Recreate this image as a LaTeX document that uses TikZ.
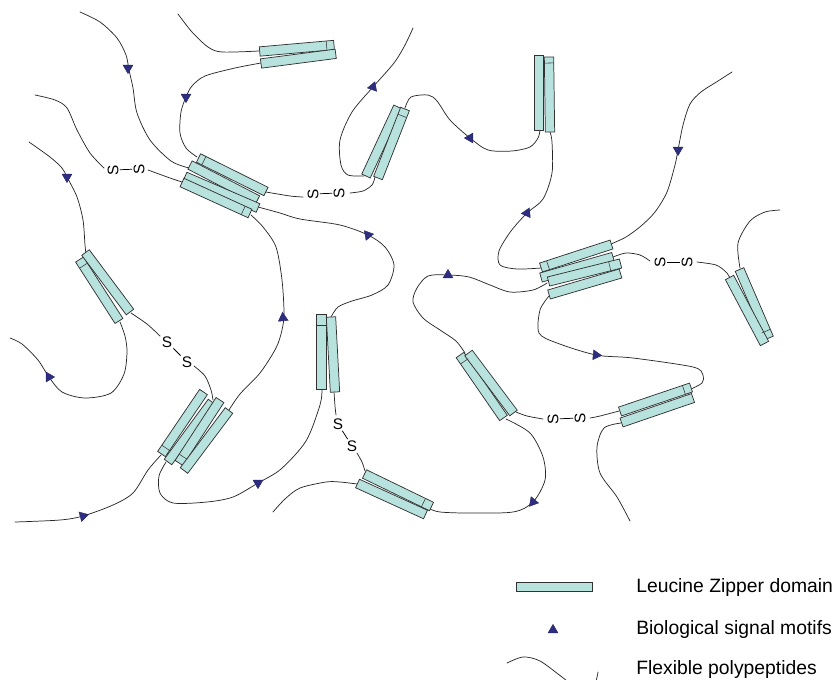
\documentclass[tikz,border=0pt]{standalone}
\usepackage{fontspec}
\setmainfont{Liberation Sans}
\usetikzlibrary{calc,shapes.geometric}

\definecolor{rodfill}{RGB}{184,226,222}
\definecolor{rodedge}{RGB}{50,50,50}
\definecolor{motifblue}{RGB}{46,46,128}
\definecolor{chain}{RGB}{40,40,40}

\tikzset{
  rodbox/.style={rectangle, draw=rodedge, fill=rodfill, line width=0.55pt,
    inner sep=0pt, outer sep=0pt, minimum height=7pt},
  tickline/.style={draw=rodedge, line width=0.4pt},
  chainline/.style={draw=chain, line width=0.55pt, line cap=round, line join=round},
  motifmark/.style={regular polygon, regular polygon sides=3, fill=motifblue,
    draw=motifblue!80!black, line width=0.3pt, inner sep=0pt, minimum size=8.5pt},
  sulfur/.style={font=\fontsize{11.5}{12}\selectfont, inner sep=0.8pt},
  bond/.style={draw=black, line width=0.55pt},
  legendtext/.style={font=\fontsize{14.5}{16}\selectfont, anchor=west, inner sep=0pt},
}

% leucine zipper rod between two centre-line end points
\newcommand\rod[5]{%
  \path let \p1=(#2,#3), \p2=(#4,#5),
            \n1={atan2(\y2-\y1,\x2-\x1)}, \n2={veclen(\x2-\x1,\y2-\y1)} in
    node[rodbox, rotate=\n1, minimum width=\n2] (#1) at ($(\p1)!0.5!(\p2)$) {};}
% small cross mark on a rod, at a fraction of its length from the west end
\newcommand\rodtick[2]{%
  \draw[tickline] ($(#1.north west)!#2!(#1.north east)$) -- ($(#1.south west)!#2!(#1.south east)$);}

\begin{document}
\begin{tikzpicture}[x=0.75pt, y=-0.75pt]
\useasboundingbox (0,0) rectangle (834,679);

% ---------- flexible polypeptide chains ----------
\draw[chainline] plot[smooth] coordinates {(178,14) (192,32) (208,47) (222,52) (259,51)};
\draw[chainline] plot[smooth] coordinates {(261,63) (235,68) (205,76) (192,86) (186,97) (181,112) (180,133) (186,148) (197,157)};
\draw[chainline] plot[smooth] coordinates {(80,12) (100,22) (117,38) (126,55) (129,70) (133,88) (137,113) (150,140) (171,161) (189,168)};
\draw[chainline] plot[smooth] coordinates {(35,95) (55,100) (67,108) (77,130) (90,153) (104,168)};
\draw[chainline] plot[smooth] coordinates {(148,170) (170,178) (182,182)};
\draw[chainline] plot[smooth] coordinates {(29,142) (50,157) (62,168) (67,177) (77,197) (83,220) (85,245) (86,254)};
\draw[chainline] plot[smooth] coordinates {(120,322) (125,336) (127,352) (124,374) (111,393) (85,398) (62,392) (49,377) (38,360) (22,344) (10,338)};
\draw[chainline] plot[smooth] coordinates {(131,313) (147,324) (160,336)};
\draw[chainline] plot[smooth] coordinates {(194,366) (205,376) (211,390) (213,400)};
\draw[chainline] plot[smooth] coordinates {(251,215) (263,227) (276,247) (282,280) (284,313) (282,330) (276,348) (260,373) (240,394) (229,410)};
\draw[chainline] plot[smooth] coordinates {(258,207) (280,213) (300,219) (340,225) (368,235) (385,247) (394,265) (388,285) (372,295) (352,301) (338,307) (331,317)};
\draw[chainline] plot[smooth] coordinates {(266,192) (290,196) (303,197)};
\draw[chainline] plot[smooth] coordinates {(350,193) (363,191) (372,185) (375,177)};
\draw[chainline] plot[smooth] coordinates {(413,28) (405,45) (394,63) (373,87) (352,112) (340,140) (341,165) (348,175) (364,176)};
\draw[chainline] plot[smooth] coordinates {(405,108) (411,97) (428,95) (437,101) (450,120) (470,138) (488,150) (512,151) (530,147) (538,138) (540,130)};
\draw[chainline] plot[smooth] coordinates {(550,132) (552,142) (552,173) (543,199) (527,213) (511,231) (499,251) (500,265) (517,269) (541,268)};
\draw[chainline] plot[smooth] coordinates {(611,244) (626,237) (641,226) (655,212) (667,192) (675,165) (678,150) (683,125) (690,104) (701,92) (718,81) (732,72)};
\draw[chainline] plot[smooth] coordinates {(613,257) (626,253) (640,255) (650,261)};
\draw[chainline] plot[smooth] coordinates {(697,262) (716,265) (726,272) (730,278)};
\draw[chainline] plot[smooth] coordinates {(740,268) (738,243) (750,221) (765,212) (780,210)};
\draw[chainline] plot[smooth] coordinates {(547,283) (533,290) (510,292) (490,285) (469,277) (448,275) (428,276) (417,288) (413,302) (423,318) (440,330) (456,341) (465,353)};
\draw[chainline] plot[smooth] coordinates {(549,296) (540,310) (539,333) (557,343) (596,355) (633,358) (693,367) (703,375) (702,383) (691,389)};
\draw[chainline] plot[smooth] coordinates {(619,411) (600,416) (590,418)};
\draw[chainline] plot[smooth] coordinates {(543,419) (527,416) (516,412)};
\draw[chainline] plot[smooth] coordinates {(621,423) (604,428) (597,447) (600,473) (617,497) (630,521)};
\draw[chainline] plot[smooth] coordinates {(506,419) (530,433) (543,457) (545,480) (533,502) (513,512) (467,513) (440,512) (430,509)};
\draw[chainline] plot[smooth] coordinates {(357,484) (340,482) (326,482) (300,488) (285,499) (273,512)};
\draw[chainline] plot[smooth] coordinates {(334,392) (335,406) (336,415)};
\draw[chainline] plot[smooth] coordinates {(357,453) (362,462) (365,471)};
\draw[chainline] plot[smooth] coordinates {(166,462) (159,476) (160,493) (173,503) (207,502) (233,497) (258,483) (281,469) (306,441) (320,405) (322,389)};
\draw[chainline] plot[smooth] coordinates {(161,455) (148,470) (133,493) (113,505) (83,516) (60,520) (15,522)};

% ---------- disulfide bridges ----------
\node[sulfur, rotate=90] (sa1) at (313,194) {S};
\node[sulfur, rotate=90] (sa2) at (339,193) {S};
\node[sulfur, rotate=90] (sb1) at (113,170) {S};
\node[sulfur, rotate=90] (sb2) at (139,169) {S};
\node[sulfur, rotate=90] (sc1) at (660,262) {S};
\node[sulfur, rotate=90] (sc2) at (687,262) {S};
\node[sulfur, rotate=90] (sd1) at (553,419) {S};
\node[sulfur, rotate=90] (sd2) at (580,418) {S};
\node[sulfur] (se1) at (167,342) {S};
\node[sulfur] (se2) at (187,362) {S};
\node[sulfur] (sf1) at (338,424) {S};
\node[sulfur] (sf2) at (352,446) {S};
\foreach \a/\b in {sa1/sa2, sb1/sb2, sc1/sc2, sd1/sd2, se1/se2, sf1/sf2}
  \draw[bond] (\a) -- (\b);

% ---------- leucine zipper domains ----------
\rod{A}{259.7}{51.5}{334}{45}
\rod{B}{261}{63.5}{335.7}{53.8}
\rod{R1}{198.5}{158}{266}{191.5}
\rod{R2}{190}{165}{257.5}{200}
\rod{R3}{185}{176.5}{258}{208}
\rod{R4}{182}{182.5}{250}{213.5}
\rod{P1}{366}{176}{398}{107}
\rod{P2}{378}{178}{405}{109}
\rod{V1}{539}{130}{539}{55}
\rod{V2}{550}{132}{549}{57}
\rod{Q1}{541}{267.5}{611.5}{244.5}
\rod{Q2}{541}{277.5}{613}{257}
\rod{Q3}{548.5}{281.5}{620.5}{263.5}
\rod{Q4}{549}{294.5}{620.5}{273.5}
\rod{T1}{739.5}{269.5}{769}{338}
\rod{T2}{729.5}{277.5}{764.5}{343.5}
\rod{S1}{620}{411.5}{691}{387.5}
\rod{S2}{621.5}{422.5}{693}{398}
\rod{D1}{460}{355}{503.5}{418}
\rod{D2}{468.5}{353}{513.5}{413}
\rod{L1}{364.5}{474}{431.5}{506.5}
\rod{L2}{357.5}{483.5}{425.5}{514.5}
\rod{M1}{321.5}{389}{321.5}{314}
\rod{M2}{335}{392}{331}{317}
\rod{W1}{79.5}{259.5}{119}{321}
\rod{W2}{85.5}{252.5}{130}{312}
\rod{K1}{161.5}{454}{203.5}{392}
\rod{K2}{168}{462}{212}{402}
\rod{K3}{179}{463}{220}{400}
\rod{K4}{184}{470.5}{229}{410.5}

\rodtick{A}{0.9}
\rodtick{R1}{0.08}
\rodtick{R4}{0.9}
\rodtick{P2}{0.9}
\rodtick{V2}{0.92}
\rodtick{W1}{0.1}
\rodtick{K1}{0.1}
\rodtick{K3}{0.1}
\rodtick{M1}{0.85}
\rodtick{L1}{0.88}
\rodtick{Q1}{0.1}
\rodtick{Q3}{0.85}
\rodtick{T1}{0.9}
\rodtick{D1}{0.1}
\rodtick{S1}{0.9}

% ---------- biological signal motifs ----------
\node[motifmark, rotate=180] (m1) at (128,68) {};
\node[motifmark, rotate=180] (m2) at (186,97) {};
\node[motifmark, rotate=-20] (m3) at (373,87) {};
\node[motifmark, rotate=90] (m4) at (470,138) {};
\node[motifmark, rotate=-25] (m5) at (527,213) {};
\node[motifmark, rotate=180] (m6) at (678,150) {};
\node[motifmark, rotate=180] (m7) at (67,177) {};
\node[motifmark, rotate=-80] (m8) at (368,235) {};
\node[motifmark] (m9) at (448,275) {};
\node[motifmark, rotate=5] (m10) at (283,318) {};
\node[motifmark, rotate=-95] (m11) at (596,355) {};
\node[motifmark, rotate=30] (m12) at (49,377) {};
\node[motifmark, rotate=-60] (m13) at (258,483) {};
\node[motifmark, rotate=20] (m14) at (533,502) {};
\node[motifmark, rotate=-75] (m15) at (83,516) {};

% ---------- legend ----------
\rod{legrod}{516}{587}{592}{587}
\node[motifmark] (legmotif) at (553,630) {};
\draw[chainline] plot[smooth] coordinates {(507,663) (523,657) (540,661) (562,677) (580,690) (594,685) (598,672)};
\node[legendtext] (lt1) at (636,587) {Leucine Zipper domain};
\node[legendtext] (lt2) at (636,629) {Biological signal motifs};
\node[legendtext] (lt3) at (636,669) {Flexible polypeptides};
\end{tikzpicture}
\end{document}
